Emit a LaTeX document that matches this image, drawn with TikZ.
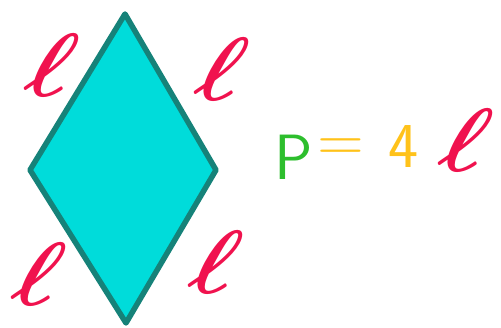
\documentclass[tikz,border=0pt]{standalone}
\usepackage{xcolor}
\usepackage{tikz}
\usetikzlibrary{positioning}
\definecolor{rhfill}{HTML}{00DCDA}
\definecolor{rhedge}{HTML}{168279}
\definecolor{ellred}{HTML}{F0124E}
\definecolor{pgreen}{HTML}{2DBE2D}
\definecolor{porange}{HTML}{FFC21A}

\begin{document}
\begin{tikzpicture}[x=1pt, y=-1pt,
   side/.style={ellred, inner sep=0pt, xslant=0.3, transform shape},
   formula/.style={inner sep=0pt, font=\sffamily\fontsize{64}{66}\selectfont}]
  \useasboundingbox (0,0) rectangle (501,328);
  % corners of the rhombus
  \coordinate (top) at (125,14);
  \coordinate (right) at (216,170);
  \coordinate (bottom) at (126,323);
  \coordinate (left) at (30,170);
  \draw[rhedge, fill=rhfill, line width=5.5pt, line join=round]
    (top) -- (right) -- (bottom) -- (left) -- cycle;
  % side labels
  \node[side] (lTL) at (52,65) {\scalebox{9}{\boldmath$\ell$}};
  \node[side] (lTR) at (222,69) {\scalebox{9}{\boldmath$\ell$}};
  \node[side] (lBL) at (39,274) {\scalebox{9}{\boldmath$\ell$}};
  \node[side] (lBR) at (216,262) {\scalebox{9}{\boldmath$\ell$}};
  % perimeter
  \node[formula, pgreen] (pP) at (294,157) {P};
  \node[formula, porange] (peq) at (341,150) {=};
  \node[formula, porange] (pfour) at (404,147) {4};
  \node[side] (pell) at (466,140) {\scalebox{9}{\boldmath$\ell$}};
\end{tikzpicture}
\end{document}
